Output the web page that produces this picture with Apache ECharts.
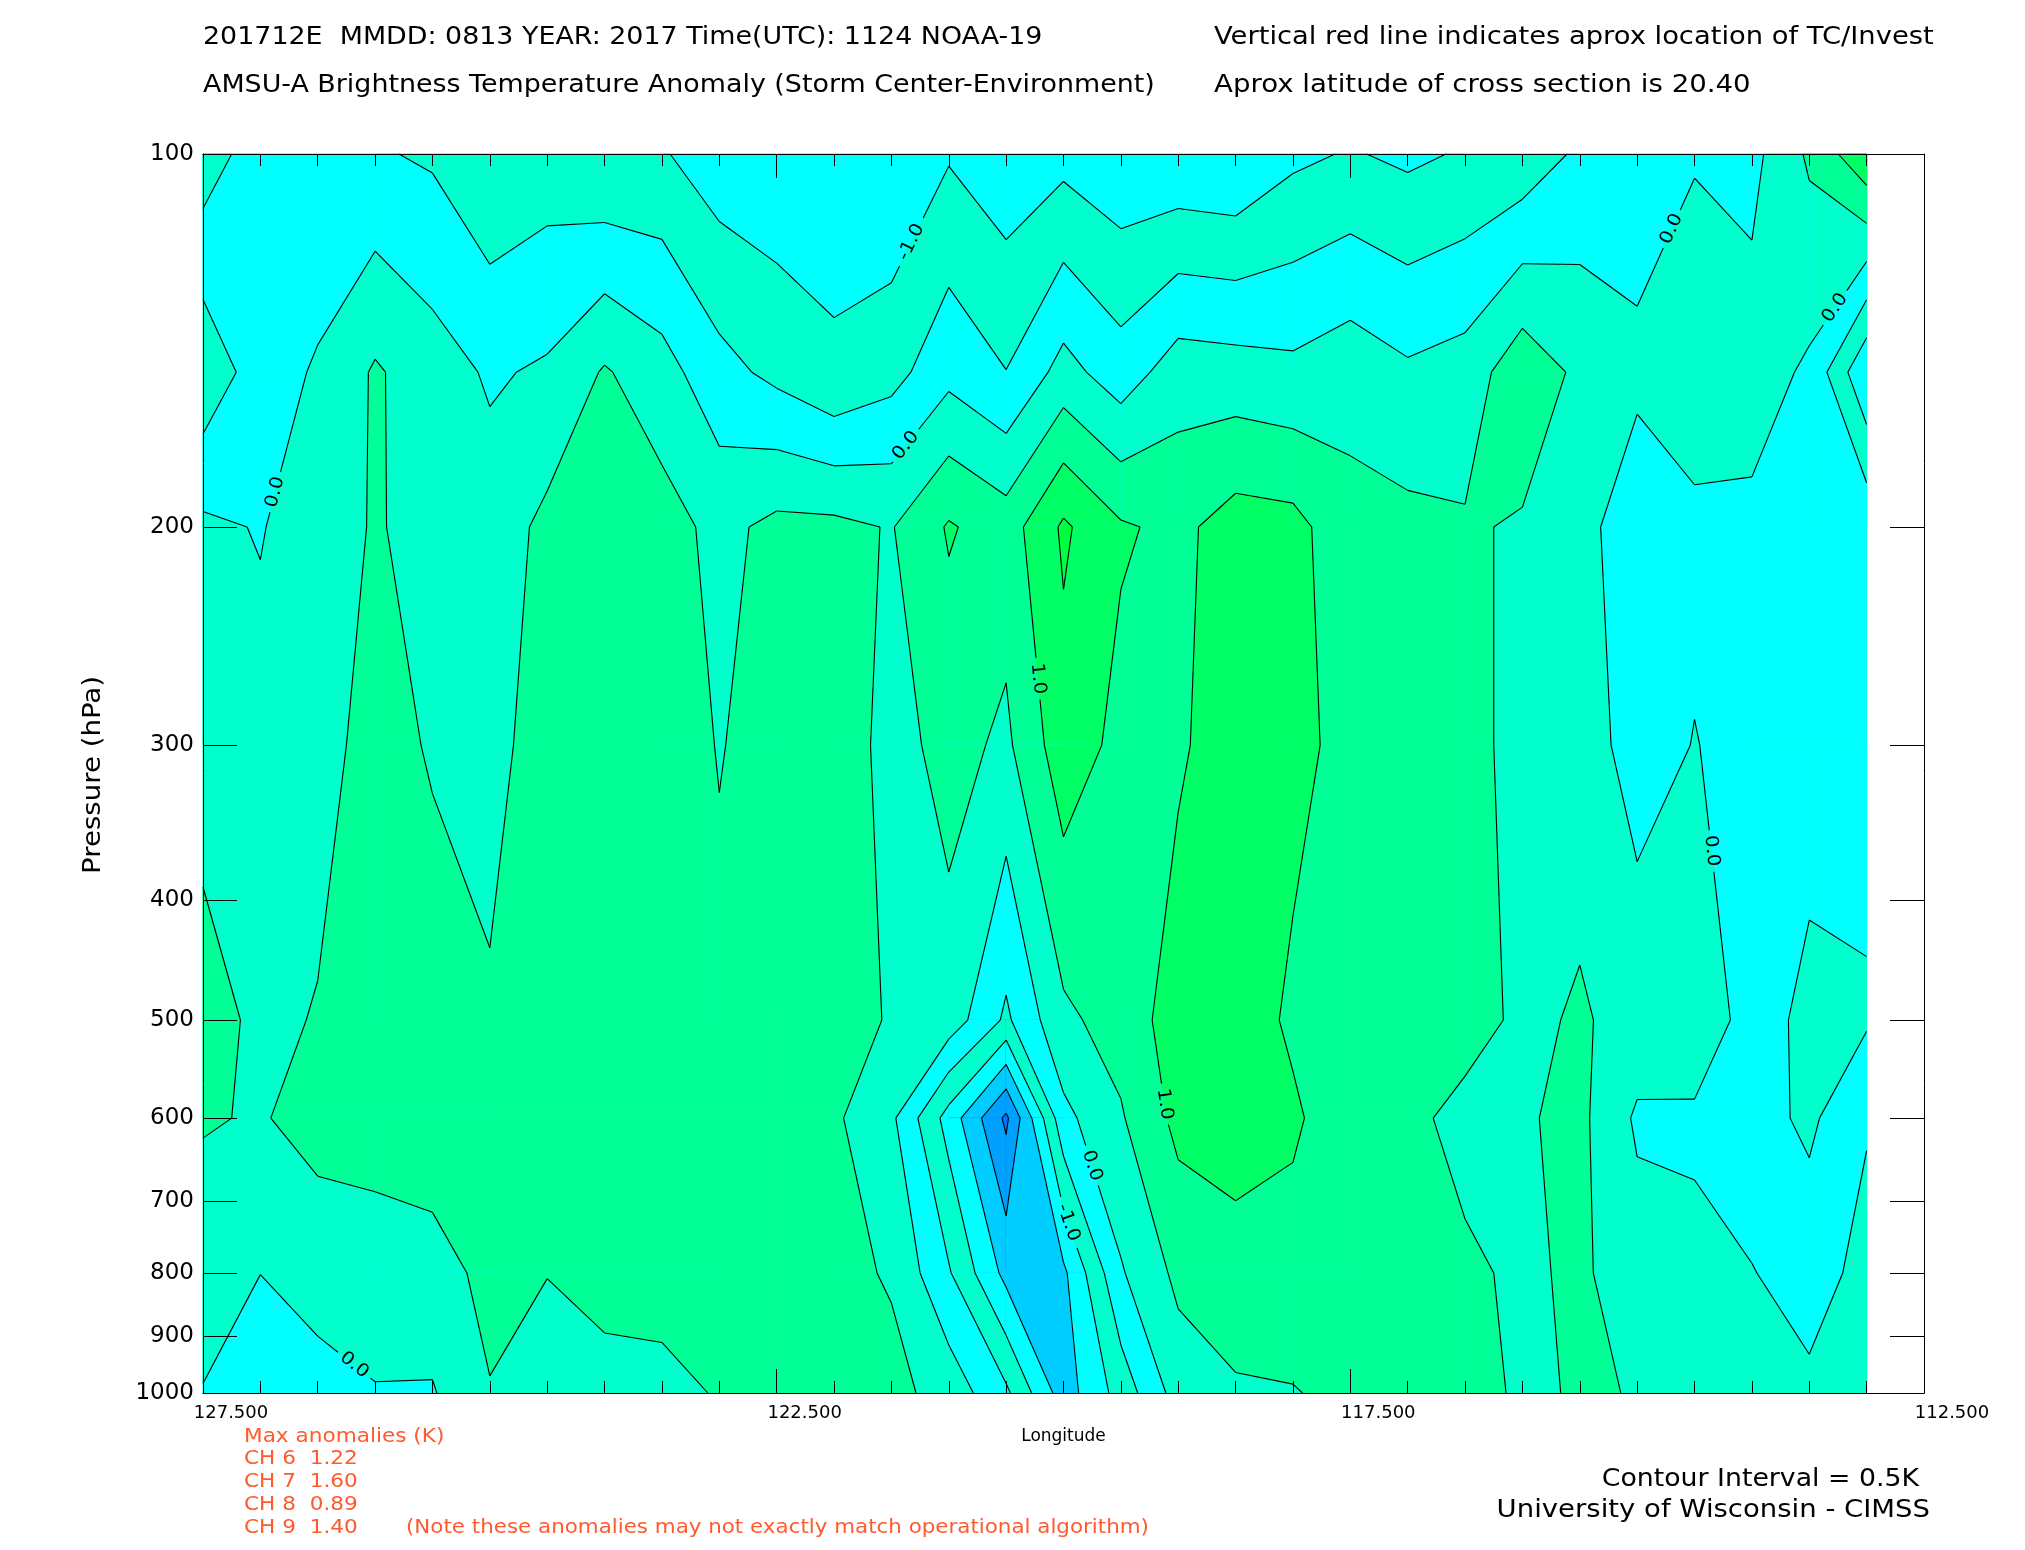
<!DOCTYPE html>
<html>
<head>
<meta charset="utf-8">
<title>AMSU-A Brightness Temperature Anomaly cross section</title>
<script src="https://cdn.jsdelivr.net/npm/echarts@6/dist/echarts.min.js"></script>
<style>
  html, body { margin: 0; padding: 0; background: #fff; }
  #chart { width: 2025px; height: 1550px; }
</style>
</head>
<body>
<div id="chart"></div>
<script>
// longitude columns of the cross section (deg E)
const longitudes = [127.5, 127.0, 126.5, 126.0, 125.5, 125.0, 124.5, 124.0, 123.5, 123.0,
  122.5, 122.0, 121.5, 121.0, 120.5, 120.0, 119.5, 119.0, 118.5, 118.0,
  117.5, 117.0, 116.5, 116.0, 115.5, 115.0, 114.5, 114.0, 113.5, 113.0]
const pressureLevels = [100, 150, 200, 300, 500, 600, 800, 1000]

// brightness temperature anomaly (K), one array per pressure level, same order as longitudes
const anom100 = [0.30, -0.30, -0.35, -0.45, -0.57, -0.95, -0.78, -0.98, -0.95, -1.30,
  -1.37, -1.15, -1.46, -1.05, -1.33, -1.17, -1.38, -1.42, -1.48, -1.11,
  -0.96, -1.10, -0.95, -0.85, -0.40, -0.30, -0.05, -0.15, 0.58, 1.41]
const anom150 = [-0.90, -0.21, 0.05, 0.56, 0.23, -0.06, 0.07, 0.55, 0.20, -0.33,
  -0.63, -0.95, -0.68, -0.15, -0.49, 0.18, -0.27, 0.26, 0.21, 0.12,
  0.30, 0.08, 0.21, 0.84, 0.39, 0.13, 0.40, 0.23, -0.08, -1.45]
const anom200 = [0.10, -0.03, 0.27, 0.54, 0.34, 0.21, 0.63, 0.75, 0.70, 0.36,
  0.63, 0.62, 0.47, 1.05, 0.75, 1.58, 1.06, 0.88, 1.22, 1.16,
  0.67, 0.63, 0.55, 0.45, 0.20, -0.35, -0.15, -0.11, -0.20, -0.12]
const anom300 = [0.34, 0.17, 0.38, 0.62, 0.47, 0.36, 0.70, 0.79, 0.77, 0.475,
  0.70, 0.85, 0.30, 0.68, 0.40, 1.30, 0.85, 0.92, 1.30, 1.18,
  0.80, 0.80, 0.65, 0.35, 0.30, -0.25, 0.02, -0.20, -0.15, -0.30]
const anom500 = [0.65, 0.42, 0.52, 0.72, 0.64, 0.55, 0.80, 0.85, 0.85, 0.62,
  0.80, 0.70, 0.46, 0.29, -0.59, 0.40, 0.70, 1.25, 1.35, 0.89,
  0.75, 0.80, 0.70, 0.40, 0.55, 0.34, 0.25, -0.15, -0.70, -0.56]
const anom600 = [0.54, 0.46, 0.68, 0.69, 0.78, 0.80, 0.78, 0.85, 0.85, 0.80,
  0.80, 0.58, 0.10, -1.20, -2.60, -0.14, 0.45, 1.14, 1.24, 1.10,
  0.60, 0.62, 0.35, 0.45, 0.62, -0.08, -0.06, -0.30, -0.60, -0.04]
const anom800 = [0.23, 0.005, 0.20, 0.29, 0.32, 0.62, 0.51, 0.60, 0.61, 0.64,
  0.74, 0.65, 0.45, -0.45, -1.65, -1.60, -0.05, 0.62, 0.79, 0.75,
  0.60, 0.64, 0.58, 0.42, 0.58, 0.24, 0.09, 0.02, -0.21, 0.15]
const anom1000 = [-0.02, -0.35, -0.18, -0.03, -0.04, 0.48, 0.30, 0.40, 0.42, 0.52,
  0.70, 0.70, 0.65, 0.30, -0.40, -1.75, -0.80, 0.22, 0.44, 0.48,
  0.60, 0.65, 0.75, 0.40, 0.55, 0.48, 0.20, 0.25, 0.10, 0.30]

// contour levels (interval 0.5 K) and fill colour of each band between them
const contourLevels = [-3.0, -2.5, -2.0, -1.5, -1.0, -0.5, 0.0, 0.5, 1.0, 1.5, 2.0]
const bandColors = ['#0050ff', '#0073ff', '#00a0ff', '#00cdff', '#00ffff', '#00ffcd',
  '#00ffff', '#00ffcd', '#00ff96', '#00ff64', '#00ff3c', '#00ff14']

// labelled contours: [longitude, pressure, level]
const contourLabels = [
  [121.39, 117, -1.0],
  [121.44, 170, 0.0],
  [126.91, 187, 0.0],
  [120.2, 265, 1.0],
  [119.08, 584, 1.0],
  [119.7, 653, 0.0],
  [120.04, 733, -1.0],
  [126.14, 939, 0.0],
  [114.74, 114.5, 0.0],
  [113.28, 133, 0.0],
  [114.33, 365, 0.0]
]

// axis ticks
const lonMajorTicks = [127.5, 122.5, 117.5, 112.5]
const lonMinorTicks = Array.from({ length: 31 }, (_, k) => 112.5 + 0.5 * k)
const pressureTicks = [100, 200, 300, 400, 500, 600, 700, 800, 900, 1000]

// footer text
const maxAnomalyChannels = ['CH 6', 'CH 7', 'CH 8', 'CH 9']
const maxAnomalyValues = [1.22, 1.60, 0.89, 1.40]

const FONT = "'DejaVu Sans', sans-serif"
const LABEL_SIZE = 18
const LABEL_STRETCH = 1.1
const grid = [anom100, anom150, anom200, anom300, anom500, anom600, anom800, anom1000]
const logP = pressureLevels.map((p) => Math.log10(p))

// ---- contour geometry in (longitude, log10 p) space ----
function cellCorners(i, j) {
  return [
    { x: longitudes[i], y: logP[j], v: grid[j][i] },
    { x: longitudes[i + 1], y: logP[j], v: grid[j][i + 1] },
    { x: longitudes[i + 1], y: logP[j + 1], v: grid[j + 1][i + 1] },
    { x: longitudes[i], y: logP[j + 1], v: grid[j + 1][i] }
  ]
}

function cross(a, b, level) {
  const t = (level - a.v) / (b.v - a.v)
  return { x: a.x + t * (b.x - a.x), y: a.y + t * (b.y - a.y), v: level }
}

// part of a cell where the value is >= level
function clipAbove(poly, level) {
  const out = []
  for (let k = 0; k < poly.length; k++) {
    const a = poly[k]
    const b = poly[(k + 1) % poly.length]
    const ina = a.v >= level
    const inb = b.v >= level
    if (ina) out.push(a)
    if (ina !== inb) out.push(cross(a, b, level))
  }
  return out
}

// contour segments of one level in a cell (same saddle choice as clipAbove)
function cellSegments(corners, level) {
  const pts = []
  for (let k = 0; k < 4; k++) {
    const a = corners[k]
    const b = corners[(k + 1) % 4]
    const ina = a.v >= level
    const inb = b.v >= level
    if (ina !== inb) pts.push({ p: cross(a, b, level), leaving: ina })
  }
  const segs = []
  pts.forEach((c, k) => {
    if (c.leaving) segs.push([c.p, pts[(k + 1) % pts.length].p])
  })
  return segs
}

const cells = []
for (let j = 0; j < pressureLevels.length - 1; j++) {
  for (let i = 0; i < longitudes.length - 1; i++) {
    cells.push([(longitudes[i] + longitudes[i + 1]) / 2, (logP[j] + logP[j + 1]) / 2, i, j])
  }
}

const allSegments = contourLevels.map((lev) => {
  const list = []
  cells.forEach((c) => {
    cellSegments(cellCorners(c[2], c[3]), lev).forEach((s) => list.push(s))
  })
  return list
})

// ---- label placement: snap each label onto its contour ----
let placementCache = null
function getLabelPlacements(api) {
  if (placementCache) return placementCache
  placementCache = contourLabels.map(([lon, p, lev]) => {
    const k = contourLevels.indexOf(lev)
    const anchor = api.coord([lon, Math.log10(p)])
    let best = null
    allSegments[k].forEach(([a, b]) => {
      const pa = api.coord([a.x, a.y])
      const pb = api.coord([b.x, b.y])
      const dx = pb[0] - pa[0]
      const dy = pb[1] - pa[1]
      const len2 = dx * dx + dy * dy || 1
      let t = ((anchor[0] - pa[0]) * dx + (anchor[1] - pa[1]) * dy) / len2
      t = Math.max(0, Math.min(1, t))
      const x = pa[0] + t * dx
      const y = pa[1] + t * dy
      const d = Math.hypot(x - anchor[0], y - anchor[1])
      if (!best || d < best.d) best = { d, x, y, dx, dy }
    })
    let dx = best.dx
    let dy = best.dy
    if (dx < 0) { dx = -dx; dy = -dy }
    const text = lev.toFixed(1)
    return {
      level: k, text, x: best.x, y: best.y,
      rotation: Math.atan2(-dy, dx),
      r: text.length * LABEL_SIZE * 0.3 * LABEL_STRETCH + 3
    }
  })
  return placementCache
}

// remove the part of each piece that lies inside the label circle
function cutPieces(pieces, pl) {
  const out = []
  pieces.forEach(([p, q]) => {
    const dx = q[0] - p[0]
    const dy = q[1] - p[1]
    const fx = p[0] - pl.x
    const fy = p[1] - pl.y
    const a = dx * dx + dy * dy
    const b = 2 * (fx * dx + fy * dy)
    const c = fx * fx + fy * fy - pl.r * pl.r
    const disc = b * b - 4 * a * c
    if (a === 0 || disc <= 0) { out.push([p, q]); return }
    const s = Math.sqrt(disc)
    const t1 = (-b - s) / (2 * a)
    const t2 = (-b + s) / (2 * a)
    if (t2 <= 0 || t1 >= 1) { out.push([p, q]); return }
    if (t1 > 0) out.push([p, [p[0] + t1 * dx, p[1] + t1 * dy]])
    if (t2 < 1) out.push([[p[0] + t2 * dx, p[1] + t2 * dy], q])
  })
  return out
}

function bandIndex(v) {
  let k = 0
  while (k < contourLevels.length && v >= contourLevels[k]) k++
  return k
}

function renderFill(params, api) {
  const corners = cellCorners(api.value(2), api.value(3))
  const vals = corners.map((c) => c.v)
  const vmin = Math.min(...vals)
  const vmax = Math.max(...vals)
  const toPx = (poly) => poly.map((pt) => api.coord([pt.x, pt.y]))
  const base = bandIndex(vmin)
  const children = [{
    type: 'polygon', silent: true,
    shape: { points: toPx(corners) },
    style: { fill: bandColors[base], stroke: bandColors[base], lineWidth: 1 }
  }]
  for (let k = base; k < contourLevels.length && contourLevels[k] <= vmax; k++) {
    const poly = clipAbove(corners, contourLevels[k])
    if (poly.length < 3) continue
    children.push({
      type: 'polygon', silent: true,
      shape: { points: toPx(poly) },
      style: { fill: bandColors[k + 1], stroke: bandColors[k + 1], lineWidth: 1 }
    })
  }
  return { type: 'group', children }
}

function renderLines(params, api) {
  const placements = getLabelPlacements(api)
  const corners = cellCorners(api.value(2), api.value(3))
  const children = []
  contourLevels.forEach((lev, k) => {
    cellSegments(corners, lev).forEach(([a, b]) => {
      let pieces = [[api.coord([a.x, a.y]), api.coord([b.x, b.y])]]
      placements.forEach((pl) => {
        if (pl.level === k) pieces = cutPieces(pieces, pl)
      })
      pieces.forEach(([p, q]) => {
        children.push({
          type: 'line', silent: true,
          shape: { x1: p[0], y1: p[1], x2: q[0], y2: q[1] },
          style: { stroke: '#000', lineWidth: 1.1 }
        })
      })
    })
  })
  return { type: 'group', children }
}

function renderLabel(params, api) {
  const pl = getLabelPlacements(api)[params.dataIndex]
  return {
    type: 'text', silent: true,
    x: pl.x, y: pl.y, rotation: pl.rotation, scaleX: LABEL_STRETCH,
    style: {
      text: pl.text, fill: '#000', font: LABEL_SIZE + 'px ' + FONT,
      align: 'center', verticalAlign: 'middle'
    }
  }
}

function lonAxis(position, ticks, len, withLabels) {
  return {
    type: 'value', position, min: 112.5, max: 127.5, inverse: true, z: 10,
    axisLine: { show: true, onZero: false, lineStyle: { color: '#000', width: 1 } },
    axisTick: { show: true, inside: true, length: len, customValues: ticks, lineStyle: { color: '#000', width: 1 } },
    axisLabel: withLabels
      ? {
          show: true, customValues: ticks, color: '#000', fontSize: 18, fontFamily: FONT,
          margin: 11, padding: [0, 0, 0, 56], formatter: (v) => v.toFixed(3)
        }
      : { show: false },
    splitLine: { show: false },
    name: withLabels ? 'Longitude' : '',
    nameLocation: 'middle', nameGap: 35,
    nameTextStyle: { color: '#000', fontSize: 17, fontFamily: FONT }
  }
}

function pressureAxis(position, withLabels) {
  const ticks = pressureTicks.map((p) => Math.log10(p))
  return {
    type: 'value', position, min: 2, max: 3, inverse: true, z: 10,
    axisLine: { show: true, onZero: false, lineStyle: { color: '#000', width: 1 } },
    axisTick: { show: true, inside: true, length: 34, customValues: ticks, lineStyle: { color: '#000', width: 1 } },
    axisLabel: withLabels
      ? {
          show: true, customValues: ticks, color: '#000', fontSize: 23, fontFamily: FONT,
          margin: 9, formatter: (v) => String(Math.round(Math.pow(10, v)))
        }
      : { show: false },
    splitLine: { show: false }
  }
}

function txt(text, x, y, size, color, align, stretch, rotation) {
  return {
    type: 'text', x, y, silent: true,
    scaleX: stretch || 1, rotation: rotation || 0,
    style: { text, fill: color, font: size + 'px ' + FONT, align: align || 'left', verticalAlign: 'middle' }
  }
}

const orange = '#ff5a2d'
const footer = [txt('Max anomalies (K)', 244, 1437, 20, orange, 'left', 1.08)]
maxAnomalyChannels.forEach((ch, k) => {
  footer.push(txt(ch + '  ' + maxAnomalyValues[k].toFixed(2), 244, 1459 + 23 * k, 20, orange, 'left', 1.08))
})

const option = {
  backgroundColor: '#fff',
  animation: false,
  grid: { left: 203, top: 154, width: 1721, height: 1239 },
  xAxis: [
    lonAxis('bottom', lonMajorTicks, 24, true),
    lonAxis('bottom', lonMinorTicks, 12, false),
    lonAxis('top', lonMajorTicks, 24, false),
    lonAxis('top', lonMinorTicks, 12, false)
  ],
  yAxis: [pressureAxis('left', true), pressureAxis('right', false)],
  series: [
    {
      type: 'custom', name: 'anomaly fill', renderItem: renderFill,
      encode: { x: 0, y: 1 }, data: cells, z: 2
    },
    {
      type: 'custom', name: 'contours', renderItem: renderLines,
      encode: { x: 0, y: 1 }, data: cells, z: 3
    },
    {
      type: 'custom', name: 'contour labels', renderItem: renderLabel,
      encode: { x: 0, y: 1 },
      data: contourLabels.map(([lon, p, lev]) => [lon, Math.log10(p), lev]), z: 4
    }
  ],
  graphic: [
    txt('201712E  MMDD: 0813 YEAR: 2017 Time(UTC): 1124 NOAA-19', 203, 38, 24, '#000', 'left', 1.12),
    txt('AMSU-A Brightness Temperature Anomaly (Storm Center-Environment)', 203, 86, 24, '#000', 'left', 1.12),
    txt('Vertical red line indicates aprox location of TC/Invest', 1214, 38, 24, '#000', 'left', 1.14),
    txt('Aprox latitude of cross section is 20.40', 1214, 86, 24, '#000', 'left', 1.15),
    txt('Pressure (hPa)', 94, 775, 24, '#000', 'center', 1.15, Math.PI / 2),
    txt('(Note these anomalies may not exactly match operational algorithm)', 406, 1528, 20, orange, 'left', 1.07),
    txt('Contour Interval = 0.5K', 1919, 1479, 25, '#000', 'right', 1.07),
    txt('University of Wisconsin - CIMSS', 1930, 1510, 25, '#000', 'right', 1.1)
  ].concat(footer)
}

const chart = echarts.init(document.getElementById('chart'), null, { renderer: 'canvas' })
chart.setOption(option)
</script>
</body>
</html>
